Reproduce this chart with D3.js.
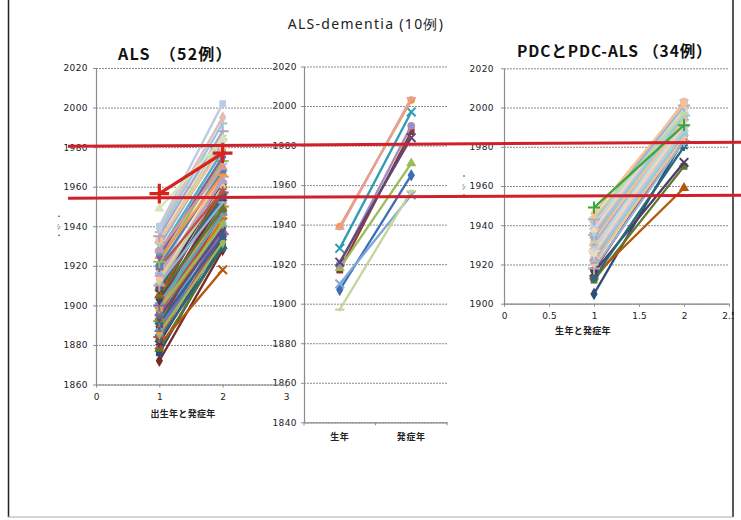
<!DOCTYPE html>
<html><head><meta charset="utf-8">
<script src="https://cdn.jsdelivr.net/npm/d3@7"></script>
<style>body{margin:0;background:#fff}</style>
</head><body>
<svg id="c" width="741" height="520"></svg>
<script>
// ================= DATA =================
const mainTitle = "ALS-dementia (10例)";
const alsTitle = "ALS　（52例）";
const pdcTitle = "PDCとPDC-ALS （34例）";
const alsXLabel = "出生年と発症年";
const pdcXLabel = "生年と発症年";
const midCategories = ["生年", "発症年"];

// ALS (52 cases): birth year (x=1) -> onset year (x=2)
const alsBirth = [1872,1876,1878,1880,1881,1883,1884,1885,1886,1887,1888,1889,1890,1891,1892,1893,1894,1895,1896,1897,1898,1899,1900,1901,1903,1904,1905,1906,1908,1909,1910,1911,1913,1914,1916,1918,1919,1920,1922,1924,1925,1927,1928,1930,1932,1933,1935,1937,1939,1940,1949,1956.5];
const alsOnset = [1928,1932,1930,1918,1934,1929,1936,1940,1932,1945,1938,1942,1948,1935,1950,1944,1939,1952,1947,1955,1941,1950,1957,1946,1953,1960,1949,1958,1962,1955,1965,1952,1960,1967,1963,1970,1958,1968,1973,1966,1975,1978,1970,1982,1985,1980,1988,1992,1995,2002,1984,1977];

// ALS-dementia (10 cases)
const midBirth = [1907,1917,1918,1920,1928,1939,1910,1938,1897,1921];
const midOnset = [1965,1987,1971,1990,1997,2003,1955,2004,1957,1984];

// PDC and PDC-ALS (34 cases)
const pdcBirth = [1905,1912,1914,1916,1913,1917,1918,1920,1921,1922,1923,1924,1925,1926,1927,1928,1929,1930,1931,1932,1933,1934,1935,1936,1937,1938,1939,1940,1941,1942,1943,1944,1946,1949];
const pdcOnset = [1984,1970,1959,1972,1980,1986,1983,1988,1985,1990,1987,1992,1989,1994,1991,1996,1993,1997,1995,1998,1994,1999,1996,2000,1998,2001,1999,2002,2000,2003,2001,1997,2002,1991];

// tick labels
const alsYTicks = [1860,1880,1900,1920,1940,1960,1980,2000,2020];
const alsXTicks = [0,1,2,3];
const midYTicks = [1840,1860,1880,1900,1920,1940,1960,1980,2000,2020];
const pdcYTicks = [1900,1920,1940,1960,1980,2000,2020];
const pdcXTicks = [0,0.5,1,1.5,2,2.5];

// hand-drawn red reference lines (years at left / right end; the scan is slightly tilted)
const refLineYears = [[1980.4,1982.5],[1954.2,1955.7]];

// ================= STYLE =================
const FONT_NUM = "'DejaVu Sans', sans-serif";
const FONT_JP = "'Noto Sans CJK JP', 'Noto Sans', sans-serif";
const GRID = "#8c8c8c";
const tones = {
  base:  ["#C0504D","#4F81BD","#9BBB59","#F79646","#8064A2","#4BACC6"],
  dark1: ["#772C2A","#2C4D75","#5F7530","#B65708","#4D3B62","#276A7C"],
  dark2: ["#953735","#376092","#77933C","#E46C0A","#604A7B","#31859C"],
  light1:["#D99694","#95B3D7","#C3D69B","#FAC090","#B3A2C7","#93CDDD"],
  light2:["#E6B9B8","#B9CDE5","#D7E4BD","#FCD5B5","#CCC1DA","#B7DEE8"]
};
const alsToneOrder = ["dark1","base","dark2","base","dark1","light1","base","light1","light2"];
const pdcToneOrder = ["dark1","light1","light2","light1","light2","light1"];
const markerCycle = ["diamond","square","triangle","times","asterisk","circle","plus","dash"];
const midColors = ["#3C6EB4","#943634","#9BBB59","#A08CC0","#2E9BB5","#F79646","#7EA6D6","#E3A09E","#C3D69B","#5C4776"];
const midMarkers = ["diamond","square","triangle","circle","times","circle","times","dash","dash","times"];

const svg = d3.select("#c");
svg.append("rect").attr("width",741).attr("height",520).attr("fill","#fff");

function marker(g, shape, cx, cy, color, big) {
  const k = big ? 1.6 : 1;
  const fillMap = {diamond:d3.symbolDiamond, square:d3.symbolSquare, triangle:d3.symbolTriangle, circle:d3.symbolCircle};
  const strokeMap = {times:d3.symbolTimes, asterisk:d3.symbolAsterisk, plus:d3.symbolPlus};
  if (fillMap[shape]) {
    g.append("path").attr("d", d3.symbol(fillMap[shape], 46*k*k)())
      .attr("transform",`translate(${cx},${cy})`).attr("fill",color);
  } else if (strokeMap[shape]) {
    g.append("path").attr("d", d3.symbol(strokeMap[shape], 50*k*k)())
      .attr("transform",`translate(${cx},${cy})`).attr("fill","none")
      .attr("stroke",color).attr("stroke-width",big?3.2:2);
  } else {
    g.append("path").attr("d","M-4.5,0H4.5M0,-1.5V1.5").attr("transform",`translate(${cx},${cy})`)
      .attr("stroke",color).attr("stroke-width",2.2).attr("fill","none");
  }
}

function styleGrid(sel) {
  sel.select(".domain").remove();
  sel.selectAll(".tick line").attr("stroke",GRID).attr("stroke-width",1).attr("stroke-dasharray","2,1");
}
function styleLabels(sel, font, size, weight, spacing) {
  sel.selectAll(".tick text").attr("font-family",font).attr("font-size",size)
     .attr("font-weight",weight||"normal").attr("letter-spacing",spacing||0).attr("fill","#222");
  sel.selectAll(".tick line").attr("stroke",GRID);
  sel.select(".domain").attr("stroke",GRID).attr("stroke-width",1.2);
}

function drawSeries(g, x0, x1v, y, births, onsets, colorOf, markerOf, widthOf) {
  const line = d3.line().x(d=>d[0]).y(d=>d[1]);
  births.forEach((b,i)=>{
    const pts = [[x0, y(b)],[x1v, y(onsets[i])]];
    g.append("path").attr("d", line(pts)).attr("fill","none")
      .attr("stroke", colorOf(i)).attr("stroke-width", widthOf(i));
    pts.forEach(p=>marker(g, markerOf(i), p[0], p[1], colorOf(i), widthOf(i)>2.8));
  });
}

// ================= MIDDLE PANEL (drawn first; panel-1 grid overlaps its labels) =================
const xm = d3.scaleBand().domain(midCategories).range([304,447]);
const ym = d3.scaleLinear().domain([1840,2020]).range([422.3,66.5]);
const gm = svg.append("g");
gm.append("g").attr("transform",`translate(${xm.range()[0]},0)`)
  .call(d3.axisLeft(ym).tickValues(midYTicks).tickSize(-(xm.range()[1]-xm.range()[0])).tickFormat(""))
  .call(styleGrid);
gm.append("g").attr("transform",`translate(${xm.range()[0]},0)`)
  .call(d3.axisLeft(ym).tickValues(midYTicks).tickSize(3).tickSizeOuter(0).tickPadding(4).tickFormat(d3.format("d")))
  .call(s=>styleLabels(s, FONT_NUM, 9, "normal", 0.4));
gm.append("g").attr("transform",`translate(0,${ym(1840)})`)
  .call(d3.axisBottom(xm).tickSize(0).tickPadding(11))
  .call(s=>styleLabels(s, FONT_JP, 9, "bold", 0.6));
const edges = midCategories.map(c=>xm(c)).concat([xm.range()[1]]);
edges.forEach(e=>gm.append("line").attr("x1",e).attr("x2",e).attr("y1",ym(1840)).attr("y2",ym(1840)+3).attr("stroke",GRID));
drawSeries(gm, xm(midCategories[0])+xm.bandwidth()/2, xm(midCategories[1])+xm.bandwidth()/2, ym,
  midBirth, midOnset, i=>midColors[i], i=>midMarkers[i], i=>2.3);

// ================= PANEL 1: ALS =================
const x1 = d3.scaleLinear().domain([0,3]).range([96,286]);
const y1 = d3.scaleLinear().domain([1860,2020]).range([384.5,68]);
const g1 = svg.append("g");
g1.append("g").attr("transform",`translate(${x1(0)},0)`)
  .call(d3.axisLeft(y1).tickValues(alsYTicks).tickSize(-(x1(3)-x1(0))).tickFormat(""))
  .call(styleGrid);
g1.append("g").attr("transform",`translate(${x1(0)},0)`)
  .call(d3.axisLeft(y1).tickValues(alsYTicks).tickSize(3).tickSizeOuter(0).tickPadding(5).tickFormat(d3.format("d")))
  .call(s=>styleLabels(s, FONT_NUM, 9, "normal", 0.4));
g1.append("g").attr("transform",`translate(0,${y1(1860)})`)
  .call(d3.axisBottom(x1).tickValues(alsXTicks).tickSize(3).tickSizeOuter(0).tickPadding(6).tickFormat(d3.format("d")))
  .call(s=>styleLabels(s, FONT_NUM, 9));
const alsHighlight = {index: alsBirth.length-1, color:"#d8231c", marker:"plus"};
drawSeries(g1, x1(1), x1(2), y1, alsBirth, alsOnset,
  i => i===alsHighlight.index ? alsHighlight.color : tones[alsToneOrder[Math.floor(i/6)]][i%6],
  i => i===alsHighlight.index ? alsHighlight.marker : markerCycle[i%8],
  i => i===alsHighlight.index ? 3.2 : 2.4);
svg.append("text").attr("x",(x1(0)+x1(3))/2-8).attr("y",417).attr("text-anchor","middle")
  .attr("font-family",FONT_JP).attr("font-weight","bold").attr("font-size",9).attr("letter-spacing",0.3).attr("fill","#222").text(alsXLabel);
svg.append("text").attr("x",118).attr("y",60).attr("font-family",FONT_JP).attr("font-weight","bold")
  .attr("font-size",16).attr("letter-spacing",1.2).attr("fill","#111").text(alsTitle);

// ================= PANEL 3: PDC =================
const x3 = d3.scaleLinear().domain([0,2.5]).range([504,729]);
const y3 = d3.scaleLinear().domain([1900,2020]).range([303.7,68.3]);
const g3 = svg.append("g");
g3.append("g").attr("transform",`translate(${x3(0)},0)`)
  .call(d3.axisLeft(y3).tickValues(pdcYTicks).tickSize(-(x3(2.5)-x3(0))).tickFormat(""))
  .call(styleGrid);
g3.append("g").attr("transform",`translate(${x3(0)},0)`)
  .call(d3.axisLeft(y3).tickValues(pdcYTicks).tickSize(3).tickSizeOuter(0).tickPadding(7).tickFormat(d3.format("d")))
  .call(s=>styleLabels(s, FONT_NUM, 9, "normal", 0.4));
g3.append("g").attr("transform",`translate(0,${y3(1900)})`)
  .call(d3.axisBottom(x3).tickValues(pdcXTicks).tickSize(3).tickSizeOuter(0).tickPadding(6).tickFormat(d=>String(d)))
  .call(s=>styleLabels(s, FONT_NUM, 9));
const pdcHighlight = {index: pdcBirth.length-1, color:"#3aa640", marker:"plus"};
drawSeries(g3, x3(1), x3(2), y3, pdcBirth, pdcOnset,
  i => i===pdcHighlight.index ? pdcHighlight.color : tones[pdcToneOrder[Math.floor(i/6)]][(i+1)%6],
  i => i===pdcHighlight.index ? pdcHighlight.marker : markerCycle[i%8],
  i => 2.3);
svg.append("text").attr("x",583).attr("y",334).attr("text-anchor","middle")
  .attr("font-family",FONT_JP).attr("font-weight","bold").attr("font-size",9).attr("letter-spacing",0.3).attr("fill","#222").text(pdcXLabel);
svg.append("text").attr("x",517).attr("y",57).attr("font-family",FONT_JP).attr("font-weight","bold")
  .attr("font-size",15.5).attr("letter-spacing",0.9).attr("fill","#111").text(pdcTitle);

// tiny rotated axis-title remnants (left of the tick labels)
[[57,y1(1940)],[462,y3(1960)]].forEach(p=>{
  svg.append("text").attr("x",p[0]).attr("y",p[1]+3).attr("font-family",FONT_JP).attr("font-size",7).attr("fill","#333").text("ｼ");
  svg.append("circle").attr("cx",p[0]+2).attr("cy",p[1]-10).attr("r",0.8).attr("fill","#333");
  svg.append("circle").attr("cx",p[0]+2).attr("cy",p[1]+9).attr("r",0.8).attr("fill","#333");
});

// main title
svg.append("text").attr("x",366).attr("y",29).attr("text-anchor","middle").attr("font-family","'Noto Sans', sans-serif")
  .attr("font-size",14).attr("letter-spacing",1.3).attr("fill","#222").text(mainTitle);

// frame
svg.append("rect").attr("x",734).attr("y",0).attr("width",7).attr("height",520).attr("fill","#fff");
svg.append("line").attr("x1",8.5).attr("x2",8.5).attr("y1",0).attr("y2",517).attr("stroke","#222").attr("stroke-width",1.5);
svg.append("line").attr("x1",733).attr("x2",733).attr("y1",0).attr("y2",517).attr("stroke","#222").attr("stroke-width",1.5);
svg.append("line").attr("x1",8).attr("x2",733).attr("y1",517).attr("y2",517).attr("stroke","#aaa").attr("stroke-width",1);

// red reference lines (drawn on top, scale of ALS panel)
refLineYears.forEach(r=>{
  svg.append("line").attr("x1",68).attr("x2",741).attr("y1",y1(r[0])).attr("y2",y1(r[1]))
    .attr("stroke","#d0202c").attr("stroke-width",3);
});
</script>
</body></html>
